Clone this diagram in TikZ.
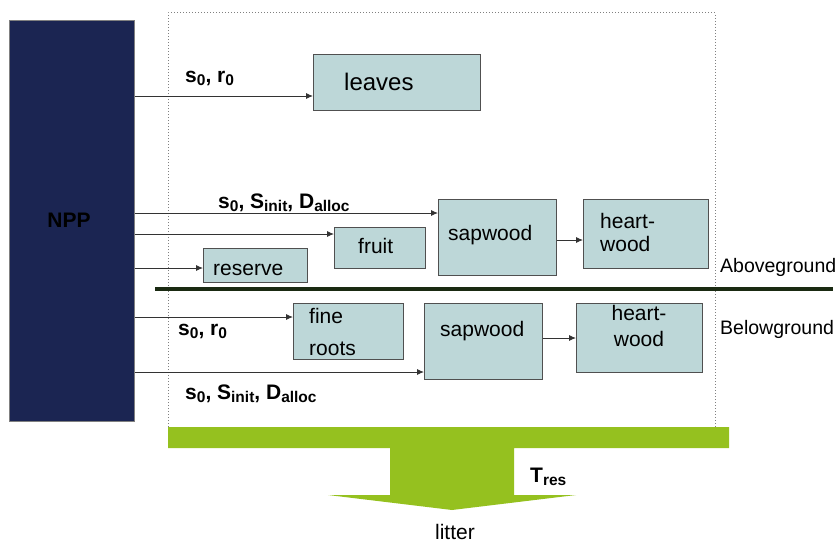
\documentclass[tikz,border=0pt]{standalone}
\usepackage{fontspec}
\setmainfont{Liberation Sans}
\usetikzlibrary{arrows.meta}
\definecolor{nppblue}{HTML}{1B2552}
\definecolor{poolfill}{HTML}{BDD7D8}
\definecolor{pooledge}{HTML}{505050}
\definecolor{littergreen}{HTML}{95C11F}
\definecolor{soilline}{HTML}{1A2A12}
\definecolor{flowline}{HTML}{333333}
% lowered subscript in text mode
\newcommand\lsub[1]{\raisebox{-3pt}{\fontsize{15.5}{15.5}\selectfont #1}}

\begin{document}
\begin{tikzpicture}[x=1pt,y=-1pt,
  pool/.style={draw=pooledge, fill=poolfill, line width=1pt, anchor=north west, inner sep=0pt},
  pooltext/.style={font=\fontsize{21}{25}\selectfont, inner sep=0pt, anchor=base west},
  flow/.style={draw=flowline, line width=0.9pt, -{Latex[length=7pt,width=6pt]}},
  param/.style={font=\fontsize{21}{25}\selectfont\bfseries, inner sep=0pt, anchor=base west},
  zone/.style={font=\fontsize{19.5}{23}\selectfont, inner sep=0pt, anchor=base west}]

\useasboundingbox (0,0) rectangle (837,543);

% tree domain
\draw[gray, dotted, line width=1pt] (168,445) -- (168,13) -- (715,13) -- (715,430);

% source of carbon
\node[draw=gray, fill=nppblue, line width=0.8pt, minimum width=125, minimum height=401,
      anchor=north west, inner sep=0pt] (npp) at (9,20) {};
\node[font=\fontsize{21}{25}\selectfont\bfseries, inner sep=0pt, anchor=base] (npplabel) at (69,227) {NPP};

% aboveground pools
\node[pool, minimum width=167, minimum height=56] (leaves) at (313,54) {};
\node[pooltext, font=\fontsize{24}{28}\selectfont] (leavesT) at (344,90) {leaves};

\node[pool, minimum width=118, minimum height=76] (sapA) at (438,199) {};
\node[pooltext] (sapAT) at (448,240) {sapwood};

\node[pool, minimum width=125, minimum height=69] (heartA) at (583,199) {};
\node[pooltext] (heartAT1) at (600,228) {heart-};
\node[pooltext] (heartAT2) at (600,251) {wood};

\node[pool, minimum width=91, minimum height=41] (fruit) at (334,227) {};
\node[pooltext] (fruitT) at (358,253) {fruit};

\node[pool, minimum width=104, minimum height=34] (reserve) at (203,248) {};
\node[pooltext] (reserveT) at (213,275) {reserve};

% belowground pools
\node[pool, minimum width=110, minimum height=56] (fine) at (293,303) {};
\node[pooltext] (fineT1) at (309,323) {fine};
\node[pooltext] (fineT2) at (309,355) {roots};

\node[pool, minimum width=118, minimum height=76] (sapB) at (424,303) {};
\node[pooltext] (sapBT) at (440,336) {sapwood};

\node[pool, minimum width=126, minimum height=69] (heartB) at (576,303) {};
\node[pooltext, anchor=base] (heartBT1) at (639,320) {heart-};
\node[pooltext, anchor=base] (heartBT2) at (639,346) {wood};

% heights of the allocation flows
\coordinate (yLeaves) at (0,96);
\coordinate (ySapA) at (0,213);
\coordinate (yFruit) at (0,234);
\coordinate (yReserve) at (0,268);
\coordinate (yHeartA) at (0,240);
\coordinate (yFine) at (0,317);
\coordinate (ySapB) at (0,372);
\coordinate (yHeartB) at (0,338);

\draw[flow] (npp.east |- yLeaves) -- (leaves.west |- yLeaves);
\draw[flow] (npp.east |- ySapA) -- (sapA.west |- ySapA);
\draw[flow] (npp.east |- yFruit) -- (fruit.west |- yFruit);
\draw[flow] (npp.east |- yReserve) -- (reserve.west |- yReserve);
\draw[flow] (sapA.east |- yHeartA) -- (heartA.west |- yHeartA);
\draw[flow] (npp.east |- yFine) -- (fine.west |- yFine);
\draw[flow] (npp.east |- ySapB) -- (sapB.west |- ySapB);
\draw[flow] (sapB.east |- yHeartB) -- (heartB.west |- yHeartB);

% allocation parameters
\node[param] (parLeaves) at (185,82) {s\lsub{0}, r\lsub{0}};
\node[param] (parWoodA) at (218,208) {s\lsub{0}, S\lsub{init}, D\lsub{alloc}};
\node[param] (parFine) at (178,335) {s\lsub{0}, r\lsub{0}};
\node[param] (parWoodB) at (185,399) {s\lsub{0}, S\lsub{init}, D\lsub{alloc}};

% soil surface
\draw[soilline, line width=3.5pt] (155,289) -- (833,289);
\node[zone] (above) at (720,272) {Aboveground};
\node[zone] (below) at (720,334) {Belowground};

% litter fall
\fill[littergreen] (168,427) -- (729,427) -- (729,448) -- (514,448) -- (514,495)
  -- (576,495) -- (452,510) -- (328,495) -- (390,495) -- (390,448) -- (168,448) -- cycle;
\node[param] (tres) at (530,482) {T\lsub{res}};
\node[font=\fontsize{21}{25}\selectfont, inner sep=0pt, anchor=base] (litter) at (455,539) {litter};
\end{tikzpicture}
\end{document}
